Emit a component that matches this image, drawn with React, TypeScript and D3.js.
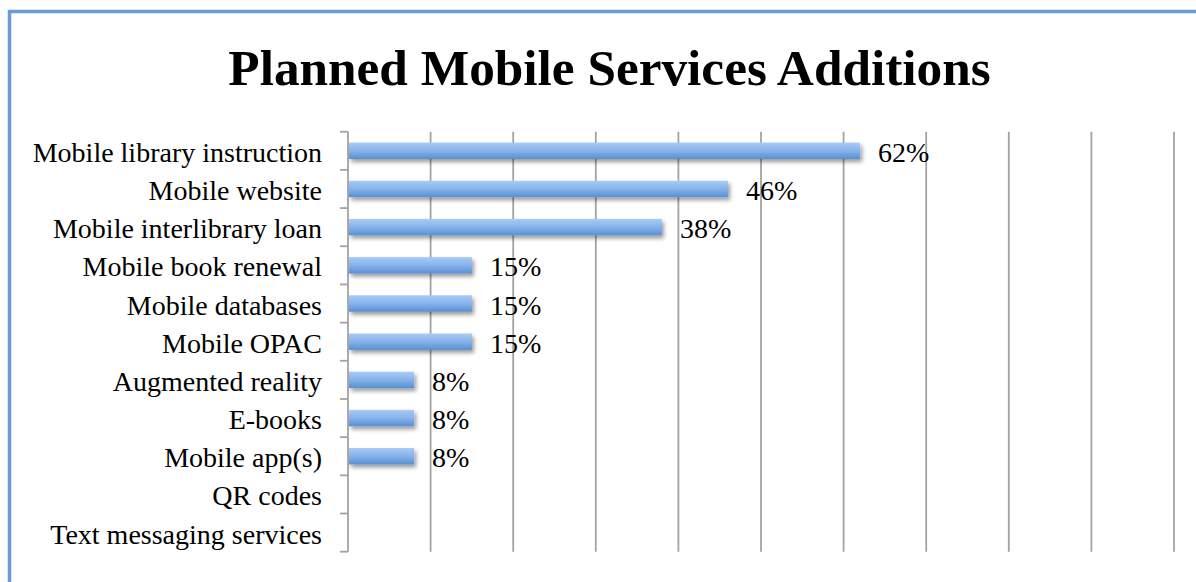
import { useMemo } from "react";
import * as d3 from "d3";

const categories = [
  "Mobile library instruction",
  "Mobile website",
  "Mobile interlibrary loan",
  "Mobile book renewal",
  "Mobile databases",
  "Mobile OPAC",
  "Augmented reality",
  "E-books",
  "Mobile app(s)",
  "QR codes",
  "Text messaging services",
];
const values = [62, 46, 38, 15, 15, 15, 8, 8, 8, 0, 0];
const xTicks = [0, 10, 20, 30, 40, 50, 60, 70, 80, 90, 100];

const W = 1196;
const H = 582;
const FONT = "'Liberation Serif', 'DejaVu Serif', serif";

export default function App() {
  const left = 348;
  const right = 1174;
  const top = 131.7;
  const bottom = 551.7;

  const x = useMemo(() => d3.scaleLinear().domain([0, 100]).range([left, right]), []);
  const y = useMemo(
    () => d3.scaleBand<string>().domain(categories).range([top, bottom]).paddingInner(0.57).paddingOuter(0.285),
    []
  );
  const band = d3.scaleBand<string>().domain(categories).range([top, bottom]);
  const bounds = categories.map((c) => band(c)!).concat([bottom]);

  return (
    <svg
      width={W}
      height={H}
      style={{ position: "absolute", left: 0, top: 0, background: "#fff" }}
    >
      <defs>
        <linearGradient id="barGrad" x1="0" y1="0" x2="0" y2="1">
          <stop offset="0" stopColor="#a9cbf6" />
          <stop offset="0.5" stopColor="#86b2ea" />
          <stop offset="1" stopColor="#5790d4" />
        </linearGradient>
        <filter id="shadow" x="-5%" y="-30%" width="115%" height="190%">
          <feGaussianBlur in="SourceAlpha" stdDeviation="2" />
          <feOffset dx="1.5" dy="3" result="b" />
          <feComponentTransfer>
            <feFuncA type="linear" slope="0.4" />
          </feComponentTransfer>
          <feMerge>
            <feMergeNode />
            <feMergeNode in="SourceGraphic" />
          </feMerge>
        </filter>
      </defs>

      {/* frame */}
      <rect x={9.5} y={11.5} width={W + 20} height={H + 20} fill="none" stroke="#6a9bd3" strokeWidth={3.5} />

      <text
        x={609.5}
        y={85}
        textAnchor="middle"
        fontFamily={FONT}
        fontWeight="bold"
        fontSize={51.3}
        fill="#000"
      >
        Planned Mobile Services Additions
      </text>

      {/* grid */}
      {xTicks.slice(1).map((t) => (
        <line key={t} x1={x(t)} x2={x(t)} y1={top} y2={bottom} stroke="#a3a3a3" strokeWidth={1.8} />
      ))}
      <line x1={left} x2={left} y1={top} y2={bottom} stroke="#a3a3a3" strokeWidth={1.8} />
      {bounds.map((b, i) => (
        <line key={i} x1={left - 8} x2={left} y1={b} y2={b} stroke="#a3a3a3" strokeWidth={1.8} />
      ))}

      {/* bars */}
      <g filter="url(#shadow)">
        {categories.map((c, i) =>
          values[i] > 0 ? (
            <rect
              key={c}
              x={x(0) + 1}
              y={y(c)!}
              width={x(values[i]) - x(0) - 1}
              height={y.bandwidth()}
              fill="url(#barGrad)"
            />
          ) : null
        )}
      </g>

      {/* category labels */}
      {categories.map((c) => (
        <text
          key={c}
          x={322}
          y={band(c)! + band.bandwidth() / 2 + 11}
          textAnchor="end"
          fontFamily={FONT}
          fontSize={28}
          fill="#000"
        >
          {c}
        </text>
      ))}

      {/* value labels */}
      {categories.map((c, i) =>
        values[i] > 0 ? (
          <text
            key={c}
            x={x(values[i]) + 18}
            y={band(c)! + band.bandwidth() / 2 + 11}
            fontFamily={FONT}
            fontSize={28}
            fill="#000"
          >
            {values[i]}%
          </text>
        ) : null
      )}
    </svg>
  );
}
